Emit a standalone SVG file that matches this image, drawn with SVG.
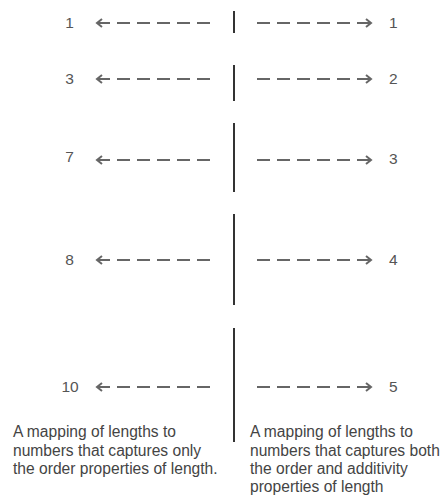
<svg xmlns="http://www.w3.org/2000/svg" width="447" height="496" viewBox="0 0 447 496">
  <defs>
    <style>
      .num { font-family: "Liberation Sans", Arial, sans-serif; font-size: 15.5px; fill: #555; }
      .lbl { font-family: "Liberation Sans", Arial, sans-serif; font-size: 15.6px; fill: #444; }
      .arr { stroke: #666; stroke-width: 2; stroke-dasharray: 13 7; fill: none; marker-end: url(#head); }
      .sep { stroke: #333; stroke-width: 2; }
    </style>
    <marker id="head" markerUnits="userSpaceOnUse" markerWidth="12" markerHeight="12" refX="0" refY="0" viewBox="-7 -6 9 12" orient="auto">
      <path d="M-5,-4 L0,0 L-5,4" fill="none" stroke="#666" stroke-width="2"/>
    </marker>
  </defs>
  <rect width="447" height="496" fill="#fff"/>

  <g id="separators">
    <line class="sep" x1="234" y1="11" x2="234" y2="33"/>
    <line class="sep" x1="234" y1="65" x2="234" y2="101"/>
    <line class="sep" x1="234" y1="123" x2="234" y2="192"/>
    <line class="sep" x1="234" y1="214" x2="234" y2="305"/>
    <line class="sep" x1="234" y1="328" x2="234" y2="442"/>
  </g>

  <g id="connectors">
    <line class="arr" x1="210" y1="23" x2="97" y2="23"/>
    <line class="arr" x1="257" y1="23" x2="371" y2="23"/>
    <line class="arr" x1="210" y1="79" x2="97" y2="79"/>
    <line class="arr" x1="257" y1="79" x2="371" y2="79"/>
    <line class="arr" x1="210" y1="160" x2="97" y2="160"/>
    <line class="arr" x1="257" y1="160" x2="371" y2="160"/>
    <line class="arr" x1="210" y1="260" x2="97" y2="260"/>
    <line class="arr" x1="257" y1="260" x2="371" y2="260"/>
    <line class="arr" x1="210" y1="387" x2="97" y2="387"/>
    <line class="arr" x1="257" y1="387" x2="371" y2="387"/>
  </g>

  <g id="left-numbers" text-anchor="middle">
    <g id="l1"><text class="num" x="69.5" y="28">1</text></g>
    <g id="l3"><text class="num" x="69.5" y="84">3</text></g>
    <g id="l7"><text class="num" x="69.5" y="162">7</text></g>
    <g id="l8"><text class="num" x="69.5" y="265">8</text></g>
    <g id="l10"><text class="num" x="70" y="392">10</text></g>
  </g>

  <g id="right-numbers">
    <g id="r1"><text class="num" x="389" y="28">1</text></g>
    <g id="r2"><text class="num" x="389" y="84">2</text></g>
    <g id="r3"><text class="num" x="389" y="164">3</text></g>
    <g id="r4"><text class="num" x="389" y="265">4</text></g>
    <g id="r5"><text class="num" x="389" y="392">5</text></g>
  </g>

  <g id="left-caption">
    <text class="lbl" x="13" y="437">A mapping of lengths to</text>
    <text class="lbl" x="13" y="455.5">numbers that captures only</text>
    <text class="lbl" x="13" y="474">the order properties of length.</text>
  </g>

  <g id="right-caption">
    <text class="lbl" x="250" y="437">A mapping of lengths to</text>
    <text class="lbl" x="250" y="455.5">numbers that captures both</text>
    <text class="lbl" x="250" y="474">the order and additivity</text>
    <text class="lbl" x="250" y="492">properties of length</text>
  </g>
</svg>
